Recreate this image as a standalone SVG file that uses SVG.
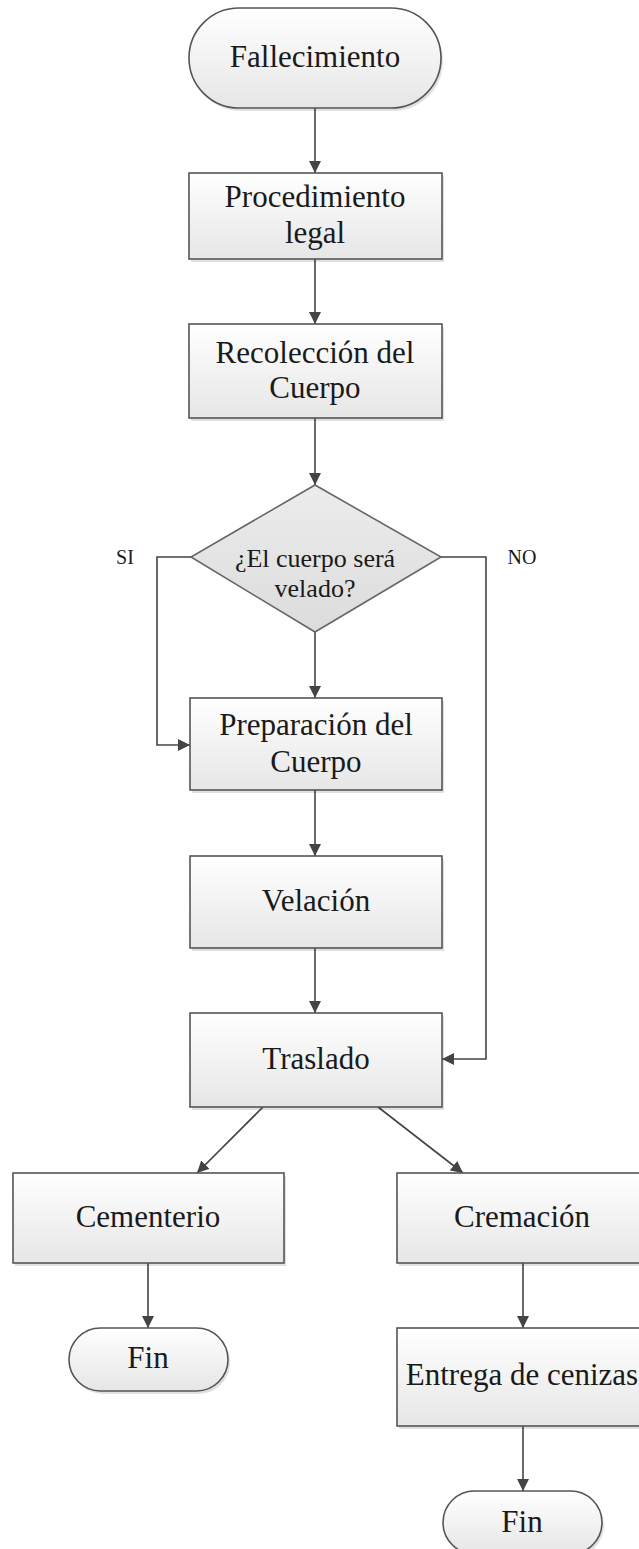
<svg xmlns="http://www.w3.org/2000/svg" width="639" height="1549" viewBox="0 0 639 1549">
<style>
.node{fill:url(#g);stroke:#555;stroke-width:1.6}
.dia{fill:url(#gd);stroke:#666;stroke-width:1.6}
.sh{fill:#000;opacity:0.12}
.t{font-family:"Liberation Serif","Times New Roman",serif;font-size:31px;fill:#1a1a1a;text-anchor:middle}
.td{font-family:"Liberation Serif","Times New Roman",serif;font-size:26px;fill:#1a1a1a;text-anchor:middle}
.tl{font-family:"Liberation Serif","Times New Roman",serif;font-size:20px;fill:#1a1a1a;text-anchor:middle}
.c{fill:none;stroke:#444;stroke-width:1.6}
.ca{fill:none;stroke:#444;stroke-width:1.6;marker-end:url(#ah)}
</style>
<defs>
<linearGradient id="g" x1="0" y1="0" x2="0" y2="1">
<stop offset="0" stop-color="#ffffff"/>
<stop offset="1" stop-color="#e6e6e6"/>
</linearGradient>
<linearGradient id="gd" x1="0" y1="0" x2="0" y2="1">
<stop offset="0" stop-color="#ececec"/>
<stop offset="1" stop-color="#dcdcdc"/>
</linearGradient>
<marker id="ah" markerWidth="12" markerHeight="12" refX="12" refY="6" orient="auto" markerUnits="userSpaceOnUse">
<path d="M0,0 L12,6 L0,12 Z" fill="#444"/>
</marker>
</defs>

<g id="connectors">
<path class="ca" d="M315,108 L315,173"/>
<path class="ca" d="M315,259 L315,324"/>
<path class="ca" d="M315,418 L315,485"/>
<path class="ca" d="M315,632 L315,698"/>
<path class="ca" d="M191,557 L157,557 L157,745 L190,745"/>
<path class="ca" d="M441,557 L486,557 L486,1059 L442,1059"/>
<path class="ca" d="M315,790 L315,856"/>
<path class="ca" d="M315,948 L315,1013"/>
<path class="ca" d="M263,1107 L197,1173"/>
<path class="ca" d="M378,1107 L463,1173"/>
<path class="ca" d="M148,1263 L148,1328"/>
<path class="ca" d="M523,1263 L523,1328"/>
<path class="ca" d="M523,1426 L523,1491"/>
<text class="tl" x="125" y="564">SI</text>
<text class="tl" x="522" y="564">NO</text>
</g>

<g id="n-fallecimiento">
<rect class="sh" x="191" y="11" width="252" height="100" rx="50"/>
<rect class="node" x="189" y="8" width="252" height="100" rx="50"/>
<text class="t" x="315" y="67">Fallecimiento</text>
</g>

<g id="n-procedimiento">
<rect class="sh" x="191" y="176" width="253" height="86"/>
<rect class="node" x="189" y="173" width="253" height="86"/>
<text class="t" x="315" y="207">Procedimiento</text>
<text class="t" x="315" y="243">legal</text>
</g>

<g id="n-recoleccion">
<rect class="sh" x="191" y="327" width="253" height="94"/>
<rect class="node" x="189" y="324" width="253" height="94"/>
<text class="t" x="315" y="363">Recolección del</text>
<text class="t" x="315" y="398">Cuerpo</text>
</g>

<g id="n-decision">
<polygon class="dia" points="315,485 441,557 315,632 191,557"/>
<text class="td" x="315" y="567">¿El cuerpo será</text>
<text class="td" x="315" y="597">velado?</text>
</g>

<g id="n-preparacion">
<rect class="sh" x="192" y="701" width="252" height="92"/>
<rect class="node" x="190" y="698" width="252" height="92"/>
<text class="t" x="316" y="735">Preparación del</text>
<text class="t" x="316" y="772">Cuerpo</text>
</g>

<g id="n-velacion">
<rect class="sh" x="192" y="859" width="252" height="92"/>
<rect class="node" x="190" y="856" width="252" height="92"/>
<text class="t" x="316" y="911">Velación</text>
</g>

<g id="n-traslado">
<rect class="sh" x="192" y="1016" width="252" height="94"/>
<rect class="node" x="190" y="1013" width="252" height="94"/>
<text class="t" x="316" y="1069">Traslado</text>
</g>

<g id="n-cementerio">
<rect class="sh" x="15" y="1176" width="271" height="90"/>
<rect class="node" x="13" y="1173" width="271" height="90"/>
<text class="t" x="148" y="1227">Cementerio</text>
</g>

<g id="n-cremacion">
<rect class="sh" x="399" y="1176" width="260" height="90"/>
<rect class="node" x="397" y="1173" width="260" height="90"/>
<text class="t" x="522" y="1227">Cremación</text>
</g>

<g id="n-fin1">
<rect class="sh" x="71" y="1331" width="159" height="63" rx="31.5"/>
<rect class="node" x="69" y="1328" width="159" height="63" rx="31.5"/>
<text class="t" x="148" y="1368">Fin</text>
</g>

<g id="n-entrega">
<rect class="sh" x="399" y="1331" width="260" height="98"/>
<rect class="node" x="397" y="1328" width="260" height="98"/>
<text class="t" x="522" y="1385">Entrega de cenizas</text>
</g>

<g id="n-fin2">
<rect class="sh" x="445" y="1494" width="159" height="63" rx="31.5"/>
<rect class="node" x="443" y="1491" width="159" height="63" rx="31.5"/>
<text class="t" x="522" y="1532">Fin</text>
</g>
</svg>
